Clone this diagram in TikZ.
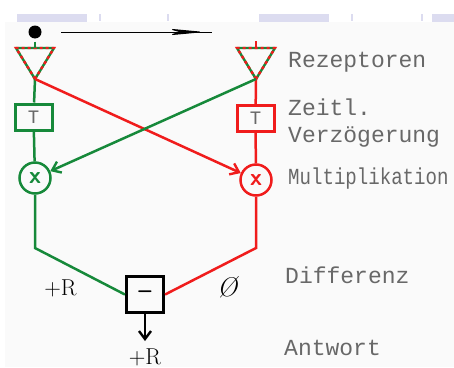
\documentclass[tikz,border=0pt]{standalone}
\usepackage{fontspec}
\newfontfamily\monofont{Liberation Mono}
\usepackage{tikz}
\usetikzlibrary{positioning,arrows.meta,calc}
\definecolor{gruen}{HTML}{16893A}
\definecolor{rot}{HTML}{F01C1C}
\definecolor{lila}{HTML}{DCDCF0}
\definecolor{grautext}{HTML}{686868}

\begin{document}
\begin{tikzpicture}[
  x=1pt, y=-1pt,
  sig/.style={line width=2.5pt},
  tbox/.style={draw, line width=3pt, minimum width=37pt, minimum height=26pt, inner sep=0pt, font=\monofont\fontsize{19}{19}\selectfont, text=grautext},
  mult/.style={draw, circle, line width=2.5pt, minimum size=31pt, inner sep=0pt, font=\sffamily\bfseries\fontsize{24}{24}\selectfont},
  lbl/.style={anchor=base west, inner sep=0pt, font=\monofont\fontsize{23}{23}\selectfont, text=grautext},
  rlbl/.style={anchor=base, inner sep=0pt, font=\fontsize{23}{23}\selectfont},
  pfeil/.style={-{Straight Barb[length=8pt, width=12pt, line width=2.4pt]}}
]
\useasboundingbox (0,0) rectangle (454,367);
% Hintergrund
\fill[white] (0,0) rectangle (454,367);
\fill[black!2] (5,22) rectangle (454,367);
\fill[lila] (17,14) rectangle (87,22);
\fill[lila] (259,14) rectangle (329,22);
\fill[lila] (432,14) rectangle (454,22);
\foreach \tx in {100,168,352,422}
  \fill[lila] (\tx-1,14) rectangle (\tx+1,21);

% Reiz und Bewegung
\node[circle, fill=black, minimum size=13pt, inner sep=0pt, outer sep=3pt] (reiz) at (35,32) {};
\coordinate (bstart) at (61,32);
\coordinate (bspitze) at (205,32);
\coordinate (bende) at (212,32);
\draw[line width=1pt] (bstart) -- (bende);
\draw[line width=1pt, -{Stealth[length=38pt, width=7pt]}] (bstart) -- (bspitze);

% Rezeptoren
\coordinate (recL) at (35,79);
\coordinate (recR) at (256,79);
\coordinate (recLo) at (35,48);
\coordinate (recRo) at (256,48);
\coordinate (recRs) at (256,41);
\foreach \r in {recL,recR}{
  \draw[gruen, line width=2.4pt, line join=round] (\r) -- ++(-19,-31) -- ++(38,0) -- cycle;
  \draw[rot, line width=2.4pt, dash pattern=on 3pt off 3pt] (\r) -- ++(-19,-31) -- ++(38,0) -- cycle;
}
\draw[gruen, sig] (reiz) -- (recLo);
\draw[rot, sig] (recRs) -- (recRo);

% Verzoegerung und Multiplikation
\node[tbox, draw=gruen] (tL) at (33.5,117) {T};
\node[tbox, draw=rot] (tR) at (255.5,118.5) {T};
\node[mult, draw=gruen, text=gruen] (cL) at (35,178) {x};
\node[mult, draw=rot, text=rot] (cR) at (256,180) {x};

% Differenz
\node[draw, line width=3.2pt, minimum width=37pt, minimum height=36pt, inner sep=0pt, font=\sffamily\bfseries\fontsize{24}{24}\selectfont] (diff) at (145,294.5) {--};
\coordinate (kL) at (35,248);
\coordinate (kR) at (256,248);
\coordinate (aus) at (145,341);

\draw[gruen, sig] (recL) -- (tL);
\draw[gruen, sig] (tL) -- (cL);
\draw[gruen, sig] (cL) -- (kL) -- (diff.west);
\draw[rot, sig] (recR) -- (tR);
\draw[rot, sig] (tR) -- (cR);
\draw[rot, sig] (cR) -- (kR) -- (diff.east);
\draw[rot, sig, pfeil] (recL) -- (cR);
\draw[gruen, sig, pfeil] (recR) -- (cL);
\draw[sig, pfeil] (diff) -- (aus);

% Werte
\node[rlbl] (rL) at (60.5,295) {+R};
\node[rlbl, font=\fontsize{27}{27}\selectfont] (null) at (228,296) {\textit{Ø}};
\node[rlbl] (rA) at (145,364) {+R};

% Beschriftung
\node[lbl] (lrez) at (288,67) {Rezeptoren};
\node[lbl] (lzeit) at (288,115) {Zeitl.};
\node[lbl] (lverz) at (288,142) {Verzögerung};
\node[lbl] (lmult) at (288,184) {\scalebox{0.83}[1]{Multiplikation}};
\node[lbl] (ldiff) at (285,283) {Differenz};
\node[lbl] (lantw) at (284,355) {Antwort};
\end{tikzpicture}
\end{document}
